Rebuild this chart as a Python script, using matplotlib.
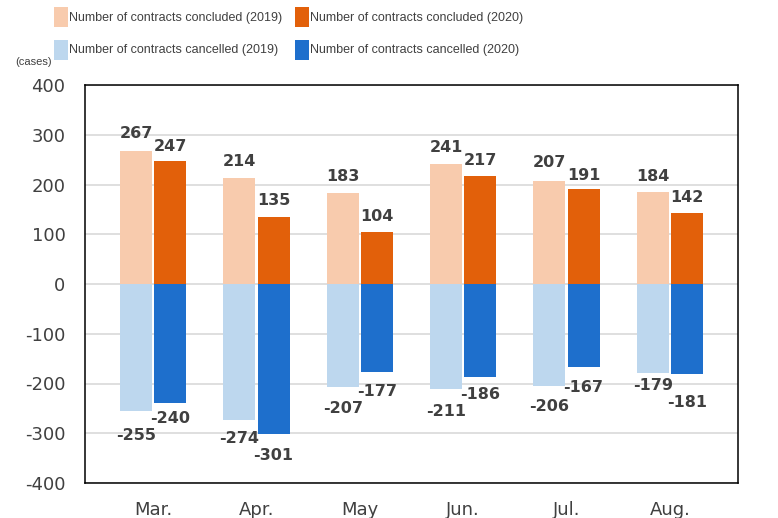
import matplotlib
matplotlib.use("Agg")
import matplotlib.pyplot as plt
from matplotlib.patches import Rectangle
import numpy as np

months = ["Mar.", "Apr.", "May", "Jun.", "Jul.", "Aug."]
concluded_2019 = [267, 214, 183, 241, 207, 184]
concluded_2020 = [247, 135, 104, 217, 191, 142]
cancelled_2019 = [-255, -274, -207, -211, -206, -179]
cancelled_2020 = [-240, -301, -177, -186, -167, -181]

series_labels = [
    "Number of contracts concluded (2019)",
    "Number of contracts cancelled (2019)",
    "Number of contracts concluded (2020)",
    "Number of contracts cancelled (2020)",
]
C_CON19 = "#F8CBAD"
C_CAN19 = "#BDD7EE"
C_CON20 = "#E2600A"
C_CAN20 = "#1E6FCC"
TXT = "#404040"

plt.rcParams['font.family'] = ['DejaVu Sans']
plt.rcParams['axes.unicode_minus'] = False

W, H = 778, 518
fig = plt.figure(figsize=(W / 100, H / 100), dpi=100)
ax = fig.add_axes([85 / W, 1 - 483 / H, (738 - 85) / W, (483 - 85) / H])

x = np.arange(len(months))
bw = 0.31
off = 0.165
ax.bar(x - off, concluded_2019, bw, color=C_CON19, zorder=2)
ax.bar(x + off, concluded_2020, bw, color=C_CON20, zorder=2)
ax.bar(x - off, cancelled_2019, bw, color=C_CAN19, zorder=2)
ax.bar(x + off, cancelled_2020, bw, color=C_CAN20, zorder=2)

ax.set_xlim(-0.66, len(months) - 1 + 0.66)
ax.set_ylim(-400, 400)
ax.set_yticks(np.arange(-400, 401, 100))
ax.set_xticks(x)
ax.set_xticklabels(months)
ax.grid(axis='y', color="#D9D9D9", linewidth=1.2, zorder=0)
ax.set_axisbelow(True)
ax.tick_params(axis='both', length=0, labelsize=13, labelcolor=TXT)
ax.tick_params(axis='y', pad=14)
ax.tick_params(axis='x', pad=13)
for s in ax.spines.values():
    s.set_color("black")
    s.set_linewidth(1.1)

# data labels with simple overlap spreading (pixel units)
fig.canvas.draw()
def ypix(v):
    return ax.transData.transform((0, v))[1]

def place_pair(v1, v2, sign, base, minsep):
    p1 = ypix(v1) + sign * base
    p2 = ypix(v2) + sign * base
    if abs(p1 - p2) < minsep:
        mid = (p1 + p2) / 2
        if p1 >= p2:
            p1, p2 = mid + minsep / 2, mid - minsep / 2
        else:
            p1, p2 = mid - minsep / 2, mid + minsep / 2
    return p1 - ypix(v1), p2 - ypix(v2)

for i in range(len(months)):
    d1, d2 = place_pair(concluded_2019[i], concluded_2020[i], 1, 16, 13)
    for xi, v, d in ((x[i] - off, concluded_2019[i], d1), (x[i] + off, concluded_2020[i], d2)):
        ax.annotate(str(v), (xi, v), xytext=(0, d), textcoords='offset pixels',
                    ha='center', va='center', fontsize=11.5, fontweight='bold', color=TXT)
    d1, d2 = place_pair(cancelled_2019[i], cancelled_2020[i], -1, 20, 17)
    for xi, v, d in ((x[i] - off, cancelled_2019[i], d1), (x[i] + off, cancelled_2020[i], d2)):
        ax.annotate(str(v), (xi, v), xytext=(0, d), textcoords='offset pixels',
                    ha='center', va='center', fontsize=11.5, fontweight='bold', color=TXT,
                    annotation_clip=False)

# unit label
fig.text(34 / W, 1 - 62 / H, "(cases)", ha='center', va='center', fontsize=8,
         color=TXT, family=['Liberation Sans', 'DejaVu Sans'])

# legend (manual 2x2)
colors = [C_CON19, C_CAN19, C_CON20, C_CAN20]
cols_x = [54, 295]
rows_y = [17, 50]
for k, (lab, col) in enumerate(zip(series_labels, colors)):
    cx = cols_x[k // 2]
    cy = rows_y[k % 2]
    fig.add_artist(Rectangle((cx / W, 1 - (cy + 10) / H), 14 / W, 20 / H,
                             transform=fig.transFigure, facecolor=col, edgecolor='none'))
    fig.text((cx + 15) / W, 1 - (cy + 0.5) / H, lab, ha='left', va='center', fontsize=9,
             color=TXT, family=['Liberation Sans', 'DejaVu Sans'])

fig.savefig("out.png", dpi=100)
